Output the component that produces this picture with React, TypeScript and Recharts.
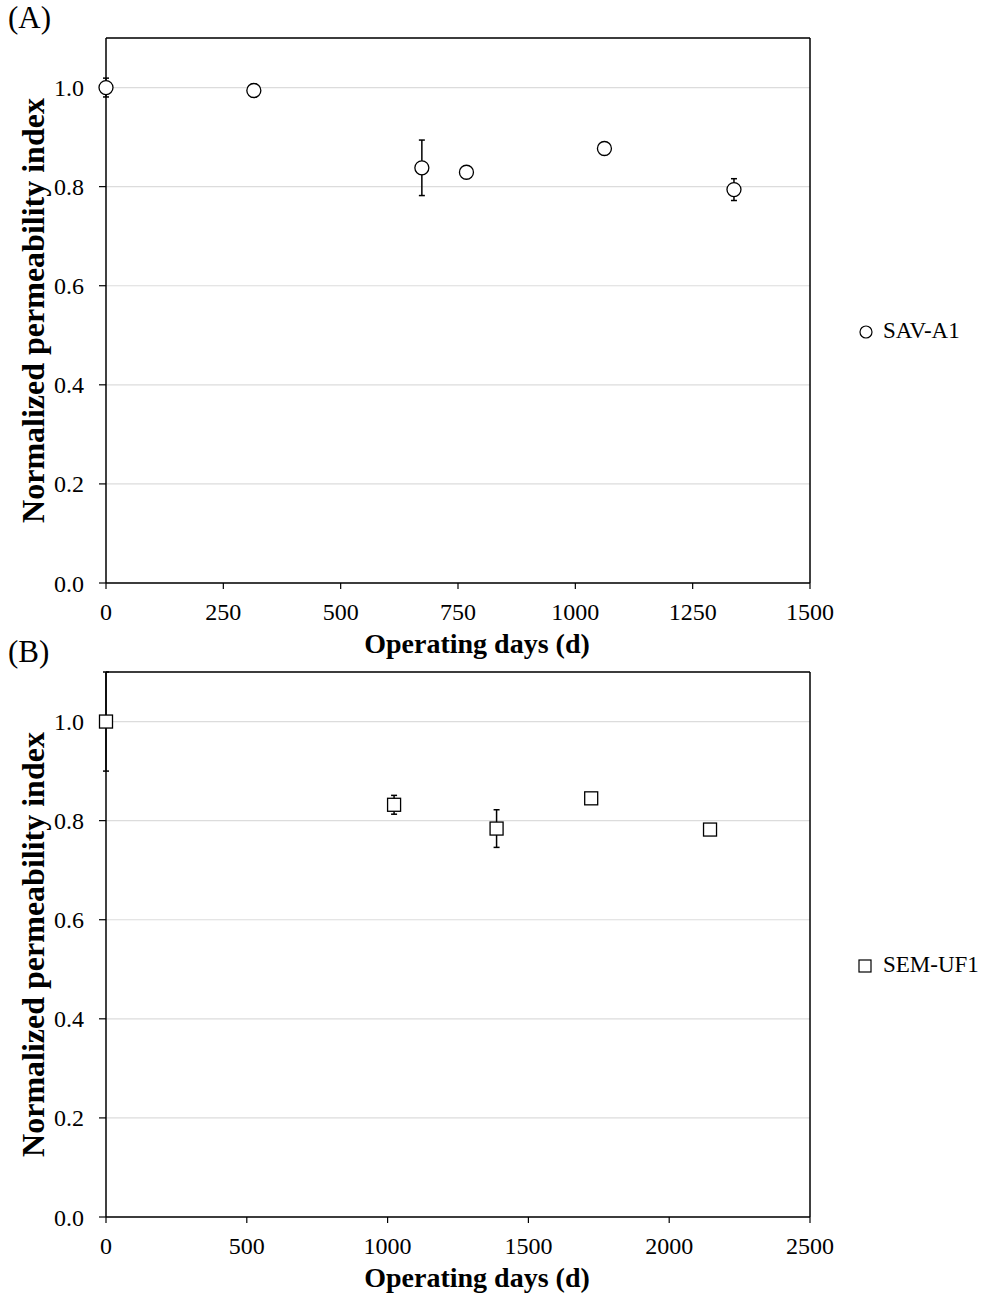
import React from 'react';
import {
  ScatterChart,
  Scatter,
  XAxis,
  YAxis,
  CartesianGrid,
  ErrorBar,
  ReferenceLine,
  Legend,
  Label,
} from 'recharts';

// panel A: SAV-A1
const daysA = [0, 315, 673, 768, 1062, 1338];
const indexA = [1.0, 0.994, 0.838, 0.829, 0.877, 0.794];
const errA = [0.019, 0.013, 0.056, 0, 0, 0.022];
const xTicksA = [0, 250, 500, 750, 1000, 1250, 1500];

// panel B: SEM-UF1
const daysB = [0, 1023, 1387, 1723, 2145];
const indexB = [1.0, 0.832, 0.784, 0.845, 0.782];
const errB = [0.1, 0.019, 0.038, 0, 0];
const xTicksB = [0, 500, 1000, 1500, 2000, 2500];

const yTicks = [0, 0.2, 0.4, 0.6, 0.8, 1.0];
const yMax = 1.1;

const FONT = '"Liberation Serif", "Times New Roman", serif';

const toRows = (xs: number[], ys: number[], es: number[]) =>
  xs.map((x, i) => ({ day: x, idx: ys[i], err: es[i] }));

const CircleDot = (p: any) => (
  <circle cx={p.cx} cy={p.cy} r={7} fill="#fff" stroke="#000" strokeWidth={1.3} />
);
const SquareDot = (p: any) => (
  <rect x={p.cx - 6.5} y={p.cy - 6.5} width={13} height={13} fill="#fff" stroke="#000" strokeWidth={1.3} />
);
const NoDot = () => <g />;

interface PanelProps {
  tag: string;
  top: number;
  rows: Array<Record<string, number>>;
  xTicks: number[];
  name: string;
  marker: 'circle' | 'square';
}

const Panel: React.FC<PanelProps> = ({ tag, top, rows, xTicks, name, marker }) => {
  const xMax = xTicks[xTicks.length - 1];
  const Dot = marker === 'circle' ? CircleDot : SquareDot;
  return (
    <div style={{ position: 'absolute', left: 0, top, width: 990, height: 660 }}>
      <div style={{ position: 'absolute', left: 8, top: 0, fontSize: 31, fontFamily: FONT }}>{tag}</div>
      <ScatterChart width={990} height={660} margin={{ top: 38, right: 180, left: 46, bottom: 0 }}>
        <CartesianGrid horizontal vertical={false} stroke="#dcdcdc" strokeWidth={1.2} />
        <XAxis
          type="number"
          dataKey="day"
          domain={[0, xMax]}
          ticks={xTicks}
          height={77}
          tickSize={6}
          tickMargin={14}
          axisLine={{ stroke: '#000', strokeWidth: 1.5 }}
          tickLine={{ stroke: '#000', strokeWidth: 1.2 }}
          tick={{ fill: '#000', fontSize: 24, fontFamily: FONT }}
        >
          <Label
            content={({ viewBox }: any) => (
              <text
                x={viewBox.x + viewBox.width / 2 + 19}
                y={viewBox.y + 70}
                textAnchor="middle"
                fontSize={28}
                fontWeight="bold"
                fontFamily={FONT}
                fill="#000"
              >
                Operating days (d)
              </text>
            )}
          />
        </XAxis>
        <YAxis
          type="number"
          dataKey="idx"
          domain={[0, yMax]}
          ticks={yTicks}
          width={60}
          tickSize={7}
          tickMargin={15}
          tickFormatter={(v: number) => v.toFixed(1)}
          axisLine={{ stroke: '#000', strokeWidth: 1.5 }}
          tickLine={{ stroke: '#000', strokeWidth: 1.2 }}
          tick={{ fill: '#000', fontSize: 24, fontFamily: FONT }}
        >
          <Label
            content={({ viewBox }: any) => {
              const cx = viewBox.x - 2;
              const cy = viewBox.y + viewBox.height / 2;
              return (
                <text
                  x={cx}
                  y={cy}
                  transform={`rotate(-90 ${cx} ${cy})`}
                  textAnchor="middle"
                  fontSize={32}
                  fontWeight="bold"
                  fontFamily={FONT}
                  fill="#000"
                >
                  Normalized permeability index
                </text>
              );
            }}
          />
        </YAxis>
        <ReferenceLine y={yMax} stroke="#000" strokeWidth={1.5} />
        <ReferenceLine x={xMax} stroke="#000" strokeWidth={1.5} />
        <Legend
          layout="horizontal"
          align="center"
          verticalAlign="middle"
          wrapperStyle={{ left: 855, top: 318, width: 135 }}
          content={() => (
            <div style={{ display: 'flex', alignItems: 'center', fontFamily: FONT, fontSize: 23, color: '#000' }}>
              <svg width={22} height={20} style={{ marginRight: 6 }}>
                {marker === 'circle' ? (
                  <circle cx={11} cy={11} r={6} fill="#fff" stroke="#000" strokeWidth={1.2} />
                ) : (
                  <rect x={4} y={5} width={12} height={12} fill="#fff" stroke="#000" strokeWidth={1.2} />
                )}
              </svg>
              <span>{name}</span>
            </div>
          )}
        />
        {/* error bars first so the hollow markers sit on top of them */}
        <Scatter name={name + ' error'} data={rows} shape={NoDot} legendType="none" isAnimationActive={false}>
          <ErrorBar dataKey="err" direction="y" width={3} stroke="#000" strokeWidth={1.5} />
        </Scatter>
        <Scatter name={name} data={rows} shape={Dot} isAnimationActive={false} />
      </ScatterChart>
    </div>
  );
};

export default function App() {
  return (
    <div style={{ position: 'absolute', left: 0, top: 0, width: 990, height: 1293, background: '#fff', overflow: 'hidden' }}>
      <Panel tag="(A)" top={0} rows={toRows(daysA, indexA, errA)} xTicks={xTicksA} name="SAV-A1" marker="circle" />
      <Panel tag="(B)" top={634} rows={toRows(daysB, indexB, errB)} xTicks={xTicksB} name="SEM-UF1" marker="square" />
    </div>
  );
}
